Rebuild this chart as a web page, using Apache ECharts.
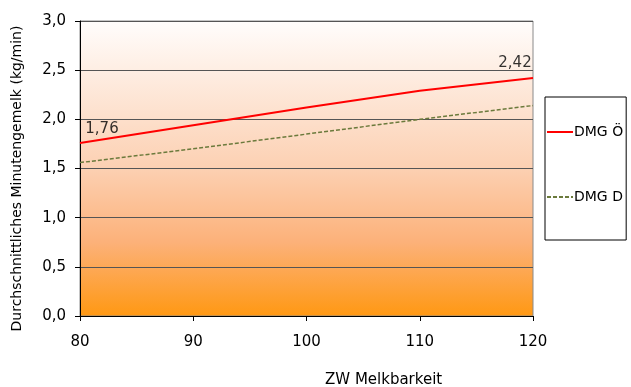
<!DOCTYPE html>
<html>
<head>
<meta charset="utf-8">
<script src="https://cdn.jsdelivr.net/npm/echarts@6/dist/echarts.min.js"></script>
<style>
  html, body { margin: 0; padding: 0; background: #fff; }
  #chart { width: 631px; height: 387px; }
</style>
</head>
<body>
<div id="chart"></div>
<script>
// ZW Melkbarkeit (breeding value for milkability)
const zwMelkbarkeit = [80, 90, 100, 110, 120];
// average milk flow per minute (kg/min)
const dmgOe = [1.76, 1.94, 2.12, 2.29, 2.42];
const dmgD = [1.56, 1.70, 1.85, 2.00, 2.14];
const seriesNames = ['DMG Ö', 'DMG D'];
const xTitle = 'ZW Melkbarkeit';
const yTitle = 'Durchschnittliches Minutengemelk (kg/min)';

const FONT = '"DejaVu Sans", sans-serif';
const comma = v => String(v).replace('.', ',');

const chart = echarts.init(document.getElementById('chart'));

// value labels for the first and last point of DMG Ö
const last = zwMelkbarkeit.length - 1;
const endLabels = [
  {
    value: [zwMelkbarkeit[0], dmgOe[0]],
    label: { position: 'top', offset: [22, -1] }
  },
  {
    value: [zwMelkbarkeit[last], dmgOe[last]],
    label: { position: 'top', offset: [-18, -2] }
  }
];

chart.setOption({
  animation: false,
  textStyle: { fontFamily: FONT },
  grid: {
    left: 80, right: 98, top: 21, bottom: 71,
    show: true,
    borderColor: '#8a8a8a',
    borderWidth: 1,
    backgroundColor: {
      type: 'linear', x: 0, y: 0, x2: 0, y2: 1,
      colorStops: [
        { offset: 0, color: '#fffdfc' },
        { offset: 0.5, color: '#fcd0b2' },
        { offset: 0.75, color: '#fcb179' },
        { offset: 1, color: '#ff9812' }
      ]
    }
  },
  legend: {
    orient: 'vertical',
    left: 545, top: 97,
    padding: [28, 3, 36, 1],
    itemGap: 51,
    itemWidth: 26, itemHeight: 14,
    borderColor: '#000', borderWidth: 1,
    backgroundColor: '#fff',
    itemStyle: { opacity: 0 },
    textStyle: { fontFamily: FONT, fontSize: 14, color: '#000', padding: [0, 0, 0, -4] },
    data: seriesNames
  },
  xAxis: {
    type: 'value',
    min: 80, max: 120, interval: 10,
    axisLine: { show: true, lineStyle: { color: '#000', width: 1 } },
    axisTick: { show: true, length: 5, lineStyle: { color: '#000' } },
    axisLabel: { fontFamily: FONT, fontSize: 15, color: '#000', margin: 19 },
    splitLine: { show: false }
  },
  yAxis: {
    type: 'value',
    min: 0, max: 3, interval: 0.5,
    name: yTitle,
    nameLocation: 'middle',
    nameGap: 56,
    nameTextStyle: { fontFamily: FONT, fontSize: 14, color: '#000', padding: [0, 20, 0, 0] },
    axisLine: { show: true, lineStyle: { color: '#000', width: 1 } },
    axisTick: { show: true, length: 5, lineStyle: { color: '#000' } },
    axisLabel: {
      fontFamily: FONT, fontSize: 15, color: '#000', margin: 14,
      formatter: v => v.toFixed(1).replace('.', ',')
    },
    splitLine: { show: true, lineStyle: { color: '#555', width: 1 } }
  },
  graphic: [{
    type: 'text',
    left: 325, top: 373,
    style: {
      text: xTitle, font: '15px ' + FONT, fill: '#000',
      textAlign: 'center'
    }
  }],
  series: [
    {
      name: seriesNames[0],
      type: 'line',
      data: zwMelkbarkeit.map((x, i) => [x, dmgOe[i]]),
      symbol: 'none',
      lineStyle: { color: '#ff0000', width: 2 },
      itemStyle: { color: '#ff0000' }
    },
    {
      name: seriesNames[1],
      type: 'line',
      data: zwMelkbarkeit.map((x, i) => [x, dmgD[i]]),
      symbol: 'none',
      lineStyle: { color: '#6b7a3c', width: 1.5, type: [4, 2] },
      itemStyle: { color: '#6b7a3c' }
    },
    {
      name: 'labels',
      type: 'scatter',
      data: endLabels,
      symbolSize: 0,
      silent: true,
      label: {
        show: true,
        fontFamily: FONT, fontSize: 15, color: '#000',
        formatter: p => comma(p.value[1].toFixed(2))
      }
    }
  ]
});
</script>
</body>
</html>
